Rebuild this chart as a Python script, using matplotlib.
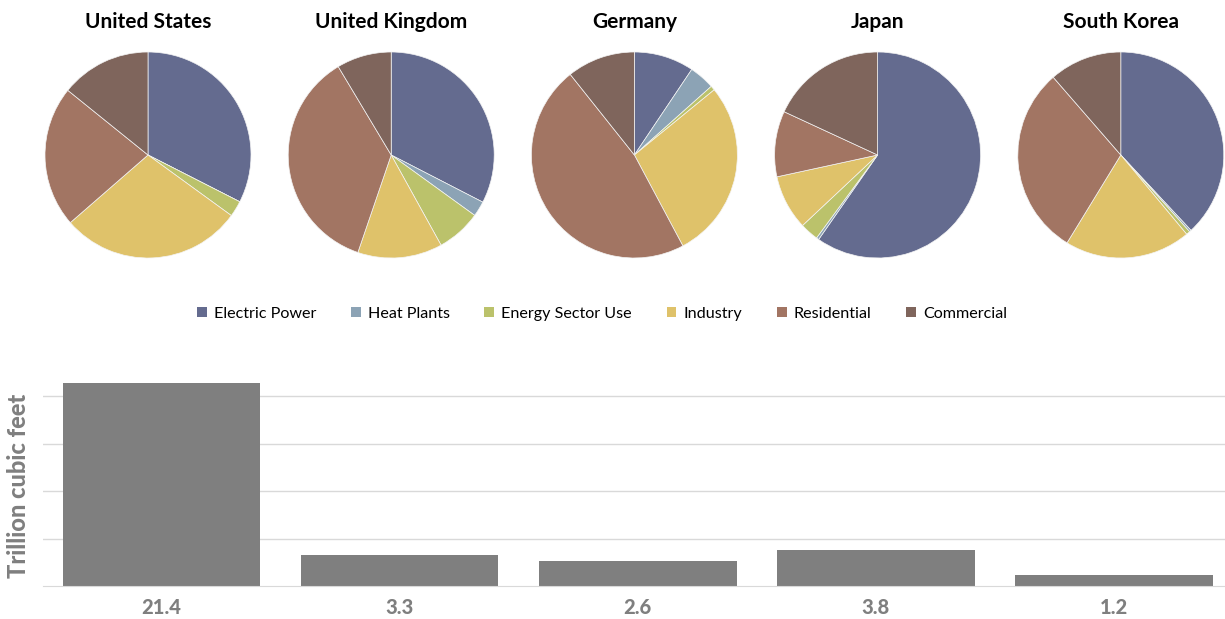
import matplotlib
matplotlib.use("Agg")
import matplotlib.pyplot as plt
from matplotlib.patches import Patch

plt.rcParams['font.family'] = ['Lato', 'DejaVu Sans']

countries = ["United States", "United Kingdom", "Germany", "Japan", "South Korea"]
sectors = ["Electric Power", "Heat Plants", "Energy Sector Use", "Industry", "Residential", "Commercial"]
colors = ["#646b8f", "#8ca3b5", "#bbc26b", "#dfc26a", "#a27563", "#7f655c"]

# sector shares (%) per country, in sector order
us_shares = [32.5, 0.0, 2.5, 28.6, 22.2, 14.2]
uk_shares = [32.6, 2.4, 7.0, 13.3, 36.2, 8.6]
de_shares = [9.4, 4.0, 0.7, 28.1, 47.1, 10.7]
jp_shares = [59.7, 0.4, 2.9, 8.6, 10.3, 18.1]
kr_shares = [38.1, 0.3, 0.6, 19.8, 29.9, 11.4]
shares = [us_shares, uk_shares, de_shares, jp_shares, kr_shares]

# total consumption (trillion cubic feet)
totals = [21.4, 3.3, 2.6, 3.8, 1.2]
total_labels = ["21.4", "3.3", "2.6", "3.8", "1.2"]

W, H = 1225, 619
fig = plt.figure(figsize=(W / 100, H / 100), dpi=100)

# pies
r = 103
for i, (name, vals) in enumerate(zip(countries, shares)):
    cx = 148 + 243.2 * i
    cy = 155
    ax = fig.add_axes([(cx - r) / W, (H - cy - r) / H, 2 * r / W, 2 * r / H])
    ax.pie(vals, colors=colors, startangle=90, counterclock=False,
           wedgeprops=dict(edgecolor="#f4f4f4", linewidth=0.5))
    ax.set_xlim(-1, 1)
    ax.set_ylim(-1, 1)
    ax.set_aspect("equal")
    ax.axis("off")
    fig.text(cx / W, (H - 22) / H, name, ha="center", va="center",
             fontsize=15, fontweight="bold", color="black")

# legend
handles = [Patch(facecolor=c, edgecolor="none") for c in colors]
fig.legend(handles, sectors, loc="center", bbox_to_anchor=(602 / W, (H - 314) / H),
           ncol=6, frameon=False, fontsize=11.6, handlelength=0.6, handleheight=0.6,
           handletextpad=0.45, columnspacing=2.15)

# bar chart
axb = fig.add_axes([42.5 / W, (H - 586) / H, (1233 - 42.5) / W, 209 / H])
x = list(range(len(totals)))
axb.bar(x, totals, width=0.83, color="#7f7f7f", zorder=3)
axb.set_xlim(-0.5, 4.5)
axb.set_ylim(0, 22)
axb.set_yticks([5, 10, 15, 20])
axb.yaxis.grid(True, color="#d9d9d9", linewidth=1, zorder=0)
axb.tick_params(axis="y", length=0, labelleft=False)
axb.set_xticks(x)
axb.set_xticklabels(total_labels, fontsize=14.5, fontweight="black", color="#7f7f7f")
axb.tick_params(axis="x", length=0, pad=9)
for s in ["top", "right", "left"]:
    axb.spines[s].set_visible(False)
axb.spines["bottom"].set_color("#d9d9d9")
axb.spines["bottom"].set_zorder(4)
fig.text(19 / W, (H - 486) / H, "Trillion cubic feet", rotation=90, ha="center", va="center",
         fontsize=17, fontweight="black", color="#7f7f7f")

fig.savefig("out.png", dpi=100)
